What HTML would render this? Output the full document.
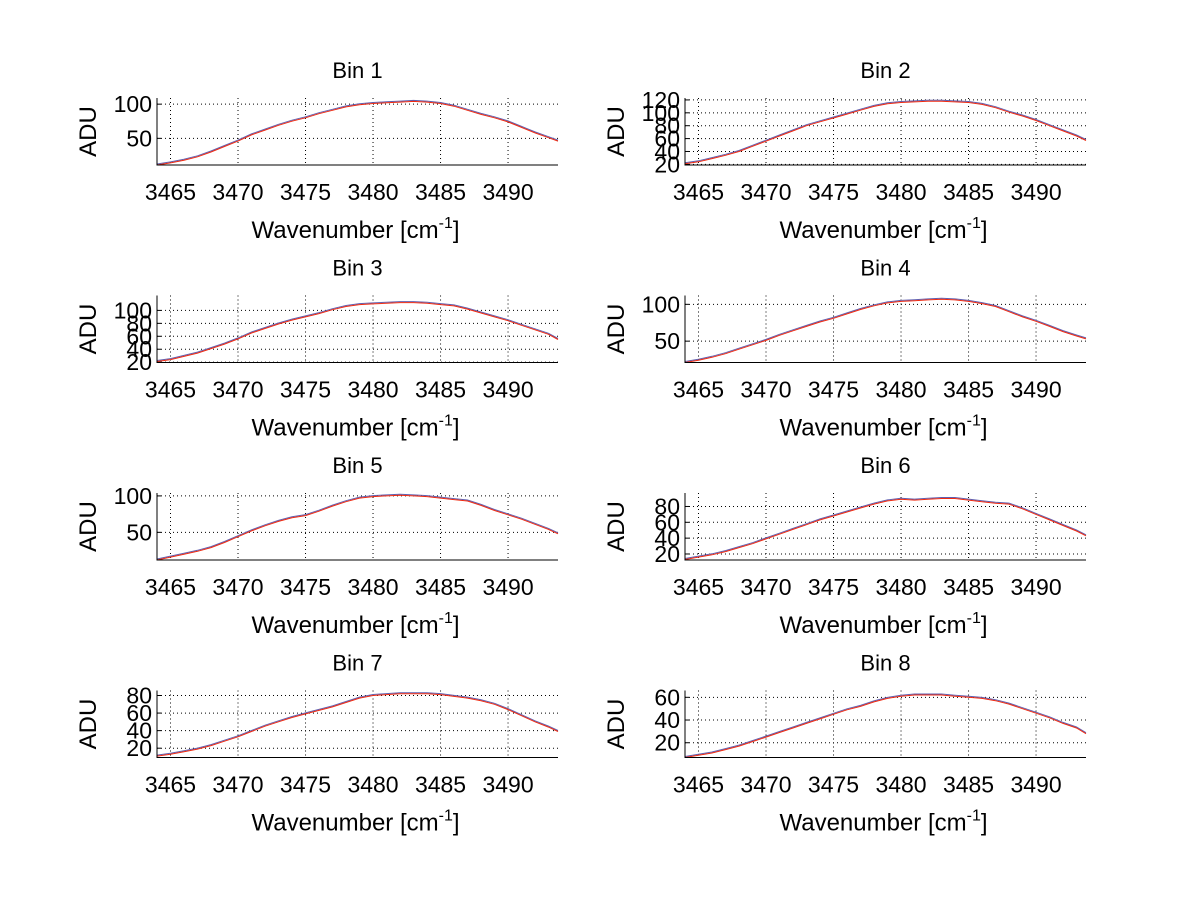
<!DOCTYPE html>
<html><head><meta charset="utf-8"><style>
html,body{margin:0;padding:0;background:#fff;}
svg{display:block;font-family:"Liberation Sans",Arial,sans-serif;}
</style></head><body>
<svg id="fig" width="1200" height="901" viewBox="0 0 1200 901"></svg>
<script>
const wavenumbers=[3464,3465,3466,3467,3468,3469,3470,3471,3472,3473,3474,3475,3476,3477,3478,3479,3480,3481,3482,3483,3484,3485,3486,3487,3488,3489,3490,3491,3492,3493,3493.7];
const xTicks=[3465,3470,3475,3480,3485,3490];
const bin1=[11,14,18,23,30,38,46,55,62,69,75,80,86,91,96,99,101,102,103,104,103,101,97,91,85,80,74,66,58,51,46];
const bin2=[21,24,29,34,40,48,56,64,72,80,86,92,98,104,110,114,116,117,118,118,117,116,113,108,101,95,88,80,72,64,57];
const bin3=[21,24,29,34,41,48,56,65,72,79,85,90,95,101,106,109,110,111,112,112,111,109,107,102,96,90,84,77,70,63,55];
const bin4=[21,24,28,33,39,45,51,58,64,70,76,81,87,93,98,102,104,105,106,107,106,104,101,97,90,83,77,70,63,57,53];
const bin5=[12,16,20,24,29,36,44,52,59,65,70,73,79,86,92,97,99,100,101,100,99,97,95,93,87,80,74,68,61,54,48];
const bin6=[13,16,19,23,28,33,39,45,51,57,63,68,73,78,83,87,89,88,89,90,90,88,86,84,83,77,70,63,56,49,43];
const bin7=[11,13,16,19,23,28,33,39,45,50,55,59,63,67,72,77,80,81,82,82,82,81,79,77,74,70,64,57,50,44,39];
const bin8=[7,9,11,14,17,21,25,29,33,37,41,45,49,52,56,59,61,62,62,62,61,60,59,57,54,50,46,42,37,33,28];
const series=[bin1,bin2,bin3,bin4,bin5,bin6,bin7,bin8];
const yLimits=[[11,109],[19,123],[19.5,123],[21,112],[12,104],[12.4,97],[9.4,85.7],[7,66]];
const yTicks=[[50,100],[20,40,60,80,100,120],[20,40,60,80,100],[50,100],[50,100],[20,40,60,80],[20,40,60,80],[20,40,60]];

const NS="http://www.w3.org/2000/svg";
const svg=document.getElementById('fig');
function mk(tag,attrs,parent){const e=document.createElementNS(NS,tag);for(const k in attrs)e.setAttribute(k,attrs[k]);(parent||svg).appendChild(e);return e;}
const xMin=3464,xMax=3493.7;
for(let i=0;i<8;i++){
  const col=i%2,row=Math.floor(i/2);
  const L=157+col*528,R=L+401,T=98+row*197.5,B=T+67;
  const g=mk('g',{});
  
  
  const [y0,y1]=yLimits[i];
  const sx=v=>L+(v-xMin)/(xMax-xMin)*(R-L);
  const sy=v=>B-(v-y0)/(y1-y0)*(B-T);
  xTicks.forEach(t=>{
    const x=sx(t);
    const gl=mk('line',{x1:x,x2:x,y1:T,y2:B,stroke:'#000','stroke-width':1,'stroke-dasharray':'1,3'},g);
    
    
    const tl=mk('text',{x:x,y:B+35,'font-size':23,'text-anchor':'middle',fill:'#000'},g);
    tl.textContent=t;
    
    
  });
  yTicks[i].forEach(t=>{
    const y=sy(t);
    const gl=mk('line',{x1:L,x2:R,y1:y,y2:y,stroke:'#000','stroke-width':1,'stroke-dasharray':'1,3'},g);
    
    
    mk('line',{x1:L,x2:L+4,y1:y,y2:y,stroke:'#000'},g);
    const tl=mk('text',{x:L-5,y:y+8,'font-size':23,'text-anchor':'end',fill:'#000'},g);
    tl.textContent=t;
    
    
  });
  const data=series[i];
  const pts=data.map((v,k)=>sx(wavenumbers[k]).toFixed(1)+','+sy(v).toFixed(1)).join(' ');
  const ptsB=data.map((v,k)=>sx(wavenumbers[k]).toFixed(1)+','+(sy(v)-1).toFixed(1)).join(' ');
  const ln2=mk('polyline',{points:ptsB,fill:'none',stroke:'#6060b0','stroke-width':1},g);
  
  
  const ln=mk('polyline',{points:pts,fill:'none',stroke:'#f02a10','stroke-width':1},g);
  
  
  mk('line',{x1:L,x2:L,y1:T,y2:B+0.5,stroke:'#000','stroke-width':1},g);
  mk('line',{x1:L,x2:R,y1:B,y2:B,stroke:'#000','stroke-width':1},g);
  const title=mk('text',{x:(L+R)/2,y:T-20,'font-size':22,'text-anchor':'middle',fill:'#000'},g);
  title.textContent='Bin '+(i+1);
  
  
  const xl=mk('text',{x:(L+R)/2-2,y:B+73,'font-size':24,'text-anchor':'middle',fill:'#000'},g);
  xl.innerHTML='Wavenumber [cm<tspan dy="-10" font-size="16">-1</tspan><tspan dy="10">]</tspan>';
  
  
  const yl=mk('text',{x:0,y:0,'font-size':24,'text-anchor':'middle',fill:'#000',transform:'translate('+(L-61)+','+((T+B)/2)+') rotate(-90)'},g);
  yl.textContent='ADU';
  
  
}
</script>
</body></html>
